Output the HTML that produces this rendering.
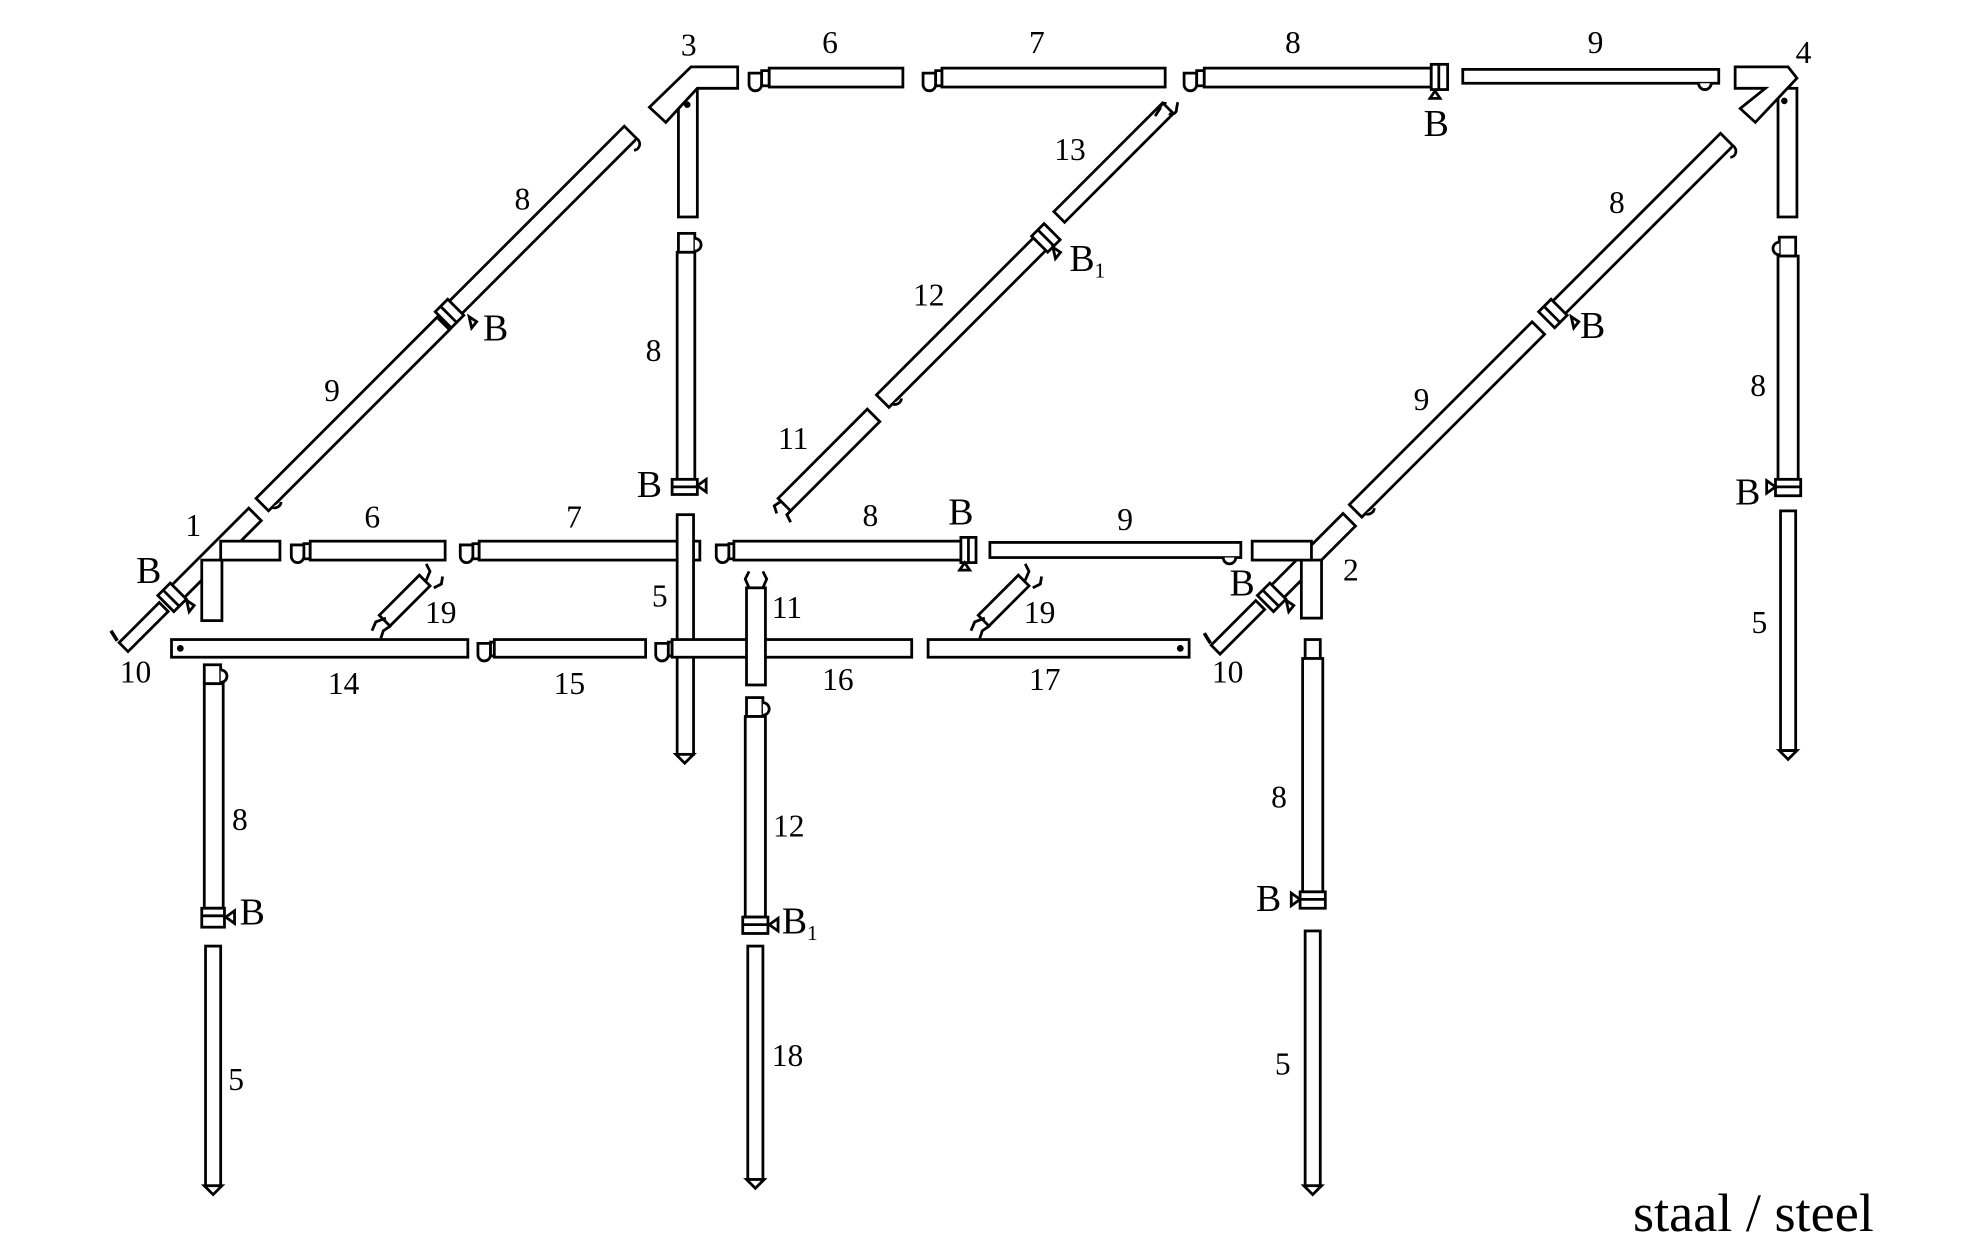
<!DOCTYPE html>
<html><head><meta charset="utf-8"><style>
html,body{margin:0;padding:0;background:#fff;}
svg{display:block}
text{font-family:"Liberation Serif",serif;fill:#000}
.n{font-size:25px}
.b{font-size:30px}
</style></head><body>
<svg width="1976" height="1240" viewBox="0 0 1567 983" preserveAspectRatio="none" xmlns="http://www.w3.org/2000/svg">
<g fill="#fff" stroke="#000" stroke-width="2.2">
<rect x="538" y="70" width="15" height="102"/>
<path d="M515,85 L548,53 L585,53 L585,70 L553,70 L528,97 Z"/>
<circle cx="545" cy="83" r="1.5" fill="#000"/>
<path d="M594,58 h10 v9 a5,5 0 0 1 -10,0 z"/><rect x="604" y="56" width="6" height="12"/>
<rect x="610" y="54" width="106" height="15"/>
<path d="M732,58 h10 v9 a5,5 0 0 1 -10,0 z"/><rect x="742" y="56" width="5" height="12"/>
<rect x="747" y="54" width="177" height="15"/>
<path d="M939,58 h10 v9 a5,5 0 0 1 -10,0 z"/><rect x="949" y="56" width="6" height="12"/>
<rect x="955" y="54" width="180" height="15"/>
<rect x="1135" y="51" width="13" height="20"/><line x1="1141" y1="51" x2="1141" y2="71"/>
<path d="M1134,78 l4,-6 l4,6 z"/>
<rect x="1160" y="55" width="203" height="11"/>
<path d="M1347,66 a5,5 0 0 0 10,0"/>
<rect x="1410" y="70" width="15" height="102"/>
<path d="M1376,53 L1418,53 L1425,62 L1392,97 L1380,86 L1400,70 L1376,70 Z"/>
<circle cx="1415" cy="80" r="1.5" fill="#000"/>
<g transform="translate(360,245) rotate(-45)">
<rect x="0" y="-7" width="198" height="14"/><rect x="-12" y="-9" width="14" height="18"/><line x1="-6" y1="-9" x2="-6" y2="9"/>
<path d="M198,7 a5,5 0 0 1 -8,5"/>
</g>
<path d="M372,251 l6,4 l-4,5 z"/>
<g transform="translate(208,400) rotate(-45)"><rect x="0" y="-7" width="203" height="14"/><path d="M4,7 a5,5 0 0 0 8,2"/></g>
<g transform="translate(140,470) rotate(-45)">
<rect x="0" y="-7" width="88" height="14"/><rect x="-12" y="-9" width="14" height="18"/><line x1="-6" y1="-9" x2="-6" y2="9"/>
</g>
<path d="M148,476 l6,4 l-4,5 z"/>
<g transform="translate(98,513) rotate(-45)"><rect x="0" y="-5" width="45" height="10"/></g>
<line x1="93" y1="508" x2="88" y2="500" stroke-width="2.8"/>
<g transform="translate(840,172) rotate(-45)"><rect x="0" y="-6" width="122" height="12"/></g>
<path d="M916,92 l4,-6 a4,4 0 0 1 5,-4 M927,90 a4,4 0 0 0 6,-4 l1,-5" fill="none"/>
<g transform="translate(700,318) rotate(-45)">
<rect x="0" y="-7" width="176" height="14"/><rect x="176" y="-9" width="14" height="18"/><line x1="183" y1="-9" x2="183" y2="9"/>
<path d="M4,7 a5,5 0 0 0 8,2"/>
</g>
<path d="M835,196 l6,4 l-4,5 z"/>
<g transform="translate(622,400) rotate(-45)"><rect x="0" y="-7" width="100" height="14"/></g>
<path d="M620,397 l-6,4 l2,6 M628,404 l-4,4 l3,6" fill="none"/>
<g transform="translate(1235,245) rotate(-45)">
<rect x="0" y="-7" width="190" height="14"/><rect x="-12" y="-9" width="14" height="18"/><line x1="-6" y1="-9" x2="-6" y2="9"/>
<path d="M190,7 a5,5 0 0 1 -8,5"/>
</g>
<path d="M1246,251 l6,4 l-4,5 z"/>
<g transform="translate(1075,405) rotate(-45)"><rect x="0" y="-7" width="205" height="14"/><path d="M4,7 a5,5 0 0 0 8,2"/></g>
<g transform="translate(1012,470) rotate(-45)">
<rect x="0" y="-7" width="82" height="14"/><rect x="-12" y="-9" width="14" height="18"/><line x1="-6" y1="-9" x2="-6" y2="9"/>
</g>
<path d="M1020,476 l6,4 l-4,5 z"/>
<g transform="translate(964,515) rotate(-45)"><rect x="0" y="-5" width="50" height="10"/></g>
<line x1="960" y1="510" x2="955" y2="502" stroke-width="2.8"/>
<rect x="160" y="444" width="16" height="48"/>
<rect x="175" y="429" width="47" height="15"/>
<path d="M231,432 h10 v9 a5,5 0 0 1 -10,0 z"/><rect x="241" y="431" width="5" height="12"/>
<rect x="246" y="429" width="107" height="15"/>
<path d="M365,432 h10 v9 a5,5 0 0 1 -10,0 z"/><rect x="375" y="431" width="5" height="12"/>
<rect x="380" y="429" width="175" height="15"/>
<rect x="537" y="408" width="13" height="190"/>
<path d="M536,598 l7,7 l7,-7 z"/>
<path d="M568,432 h10 v9 a5,5 0 0 1 -10,0 z"/><rect x="578" y="431" width="4" height="12"/>
<rect x="582" y="429" width="180" height="15"/>
<rect x="762" y="426" width="12" height="20"/><line x1="768" y1="426" x2="768" y2="446"/>
<path d="M761,452 l4,-6 l4,6 z"/>
<rect x="785" y="430" width="199" height="12"/>
<path d="M970,442 a5,5 0 0 0 10,0"/>
<rect x="1032" y="444" width="16" height="46"/>
<rect x="993" y="429" width="47" height="15"/>
<g transform="translate(305,492) rotate(-45)"><rect x="0" y="-6" width="45" height="12"/></g>
<path d="M306,490 l-8,3 l-3,7 M310,496 l-6,4 l-2,6 M338,460 l3,-7 l-3,-6 M344,466 l6,-3 l1,-6" fill="none"/>
<g transform="translate(780,492) rotate(-45)"><rect x="0" y="-6" width="45" height="12"/></g>
<path d="M781,490 l-8,3 l-3,7 M785,496 l-6,4 l-2,6 M813,460 l3,-7 l-3,-6 M819,466 l6,-3 l1,-6" fill="none"/>
<rect x="136" y="507" width="235" height="14"/><circle cx="143" cy="514" r="1.6" fill="#000"/>
<path d="M379,510 h10 v9 a5,5 0 0 1 -10,0 z"/><rect x="389" y="509" width="3" height="11"/>
<rect x="392" y="507" width="120" height="14"/>
<path d="M520,510 h10 v9 a5,5 0 0 1 -10,0 z"/><rect x="530" y="509" width="3" height="11"/>
<rect x="533" y="507" width="190" height="14"/>
<rect x="736" y="507" width="207" height="14"/><circle cx="936" cy="514" r="1.6" fill="#000"/>
<rect x="592" y="466" width="15" height="77"/>
<path d="M594,466 l-3,-7 l3,-6 M605,466 l3,-7 l-3,-6" fill="none"/>
<rect x="162" y="527" width="13" height="15"/><path d="M175,531 a5,5 0 0 1 0,10"/>
<rect x="162" y="542" width="15" height="178"/>
<rect x="160" y="720" width="18" height="15"/><line x1="160" y1="726" x2="178" y2="726"/>
<path d="M186,722 l-7,5 l7,5 z"/>
<rect x="163" y="750" width="12" height="190"/>
<path d="M162,940 l7,7 l7,-7 z"/>
<rect x="592" y="553" width="13" height="15"/><path d="M605,557 a5,5 0 0 1 0,10"/>
<rect x="591" y="568" width="16" height="159"/>
<rect x="589" y="727" width="20" height="13"/><line x1="589" y1="733" x2="609" y2="733"/>
<path d="M617,728 l-7,5 l7,5 z"/>
<rect x="593" y="750" width="12" height="185"/>
<path d="M592,935 l7,7 l7,-7 z"/>
<rect x="1035" y="507" width="12" height="15"/>
<rect x="1033" y="522" width="16" height="185"/>
<rect x="1031" y="707" width="20" height="13"/><line x1="1031" y1="713" x2="1051" y2="713"/>
<path d="M1024,708 l7,5 l-7,5 z"/>
<rect x="1035" y="738" width="12" height="202"/>
<path d="M1034,940 l7,7 l7,-7 z"/>
<rect x="1411" y="188" width="13" height="15"/><path d="M1411,192 a5,5 0 0 0 0,10"/>
<rect x="1410" y="203" width="16" height="177"/>
<rect x="1408" y="380" width="20" height="13"/><line x1="1408" y1="386" x2="1428" y2="386"/>
<path d="M1401,381 l7,5 l-7,5 z"/>
<rect x="1412" y="405" width="12" height="190"/>
<path d="M1411,595 l7,7 l7,-7 z"/>
<rect x="538" y="185" width="13" height="15"/><path d="M551,189 a5,5 0 0 1 0,10"/>
<rect x="537" y="200" width="14" height="180"/>
<rect x="533" y="380" width="20" height="12"/><line x1="533" y1="386" x2="553" y2="386"/>
<path d="M560,380 l-7,5 l7,5 z"/>
</g>
<g class="n">
<text x="540" y="44">3</text><text x="652" y="42">6</text><text x="816" y="42">7</text><text x="1019" y="42">8</text><text x="1259" y="42">9</text><text x="1424" y="50">4</text>
<text x="408" y="166">8</text><text x="257" y="318">9</text><text x="147" y="425">1</text>
<text x="836" y="127">13</text><text x="724" y="242">12</text><text x="617" y="356">11</text>
<text x="1276" y="169">8</text><text x="1121" y="325">9</text>
<text x="512" y="286">8</text><text x="1388" y="314">8</text>
<text x="289" y="418">6</text><text x="449" y="418">7</text><text x="684" y="417">8</text><text x="886" y="420">9</text><text x="1065" y="460">2</text>
<text x="517" y="481">5</text><text x="612" y="490">11</text>
<text x="337" y="494">19</text><text x="812" y="494">19</text>
<text x="95" y="541">10</text><text x="260" y="550">14</text><text x="439" y="550">15</text><text x="652" y="547">16</text><text x="816" y="547">17</text><text x="961" y="541">10</text>
<text x="184" y="658">8</text><text x="613" y="663">12</text><text x="1008" y="640">8</text><text x="1389" y="502">5</text>
<text x="181" y="864">5</text><text x="612" y="845">18</text><text x="1011" y="852">5</text>
</g>
<g class="b">
<text x="1129" y="108">B</text><text x="383" y="270">B</text><text x="848" y="215">B<tspan font-size="17" dy="5">1</tspan></text>
<text x="1253" y="268">B</text><text x="505" y="394">B</text><text x="1376" y="400">B</text>
<text x="752" y="416">B</text><text x="108" y="462">B</text><text x="975" y="472">B</text>
<text x="190" y="733">B</text><text x="620" y="740">B<tspan font-size="17" dy="5">1</tspan></text><text x="996" y="722">B</text>
</g>
<text x="1295" y="976" style="font-size:43px">staal / steel</text>
</svg>
</body></html>
